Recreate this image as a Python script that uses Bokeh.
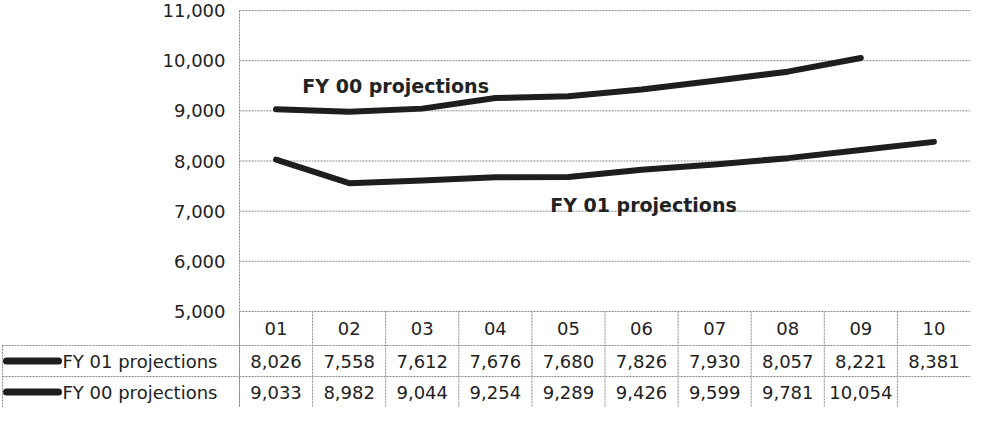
from bokeh.plotting import figure
from bokeh.models import Range1d
from bokeh.core.properties import value
from bokeh.embed import file_html
from bokeh.resources import INLINE

# ---- data ----
categories = ["01", "02", "03", "04", "05", "06", "07", "08", "09", "10"]
series_names = ["FY 01 projections", "FY 00 projections"]
fy01 = [8026, 7558, 7612, 7676, 7680, 7826, 7930, 8057, 8221, 8381]
fy00 = [9033, 8982, 9044, 9254, 9289, 9426, 9599, 9781, 10054]
y_ticks = [5000, 6000, 7000, 8000, 9000, 10000, 11000]

FONT = value("DejaVu Sans")
TXT = "#222222"
GRID = "#8c8c8c"
LINE = "#1e1e1e"

# ---- layout geometry (pixels) ----
W, H = 970, 407
LEFT = 239            # chart area left edge
TOP_PAD = 10          # space above the top gridline
CHART_H = 301         # height of the value area
ROW_H = [34, 31, 31]  # header row, two data rows

n = len(categories)
colw = (W - LEFT) / n
upp = (y_ticks[-1] - y_ticks[0]) / CHART_H   # data units per pixel
ymax = y_ticks[-1] + TOP_PAD * upp
ymin = y_ticks[0] - sum(ROW_H) * upp
xs = -0.5 - LEFT / colw
xe = n - 0.5

p = figure(width=W, height=H, output_backend="svg", toolbar_location=None,
           x_range=Range1d(xs, xe), y_range=Range1d(ymin, ymax),
           x_axis_location=None, y_axis_location=None,
           min_border_left=0, min_border_right=0,
           min_border_top=0, min_border_bottom=0)
p.outline_line_color = None
p.xgrid.grid_line_color = None
p.ygrid.grid_line_color = None
p.background_fill_color = "white"
p.border_fill_color = "white"

dash = dict(line_color=GRID, line_dash="2 1", line_width=1)

# horizontal gridlines (value axis)
p.segment(x0=[-0.5] * len(y_ticks), y0=y_ticks, x1=[xe] * len(y_ticks), y1=y_ticks, **dash)
# value-axis line, continuing through the table
p.segment(x0=[-0.5], y0=[ymax - TOP_PAD * upp], x1=[-0.5], y1=[ymin], **dash)
# value-axis tick labels
p.text(x=[-0.5 - 14 / colw] * len(y_ticks), y=y_ticks,
       text=[f"{v:,}" for v in y_ticks], text_align="right", text_baseline="middle",
       text_font=FONT, text_font_size="18px", text_color=TXT)

# series lines
p.line(list(range(len(fy01))), fy01, line_width=6, line_color=LINE,
       line_cap="round", line_join="round")
p.line(list(range(len(fy00))), fy00, line_width=6, line_color=LINE,
       line_cap="round", line_join="round")

# in-chart series labels
p.text(x=[0.36, 3.75], y=[9500, 7130], text=[series_names[1], series_names[0]],
       text_align="left", text_baseline="middle", text_font=FONT,
       text_font_size="19px", text_font_style="bold", text_color=TXT)

# ---- data table ----
y_edges = [y_ticks[0]]
for h in ROW_H:
    y_edges.append(y_edges[-1] - h * upp)
label_left = xs + 2 / colw

bounds = [i - 0.5 for i in range(n + 1)]
p.segment(x0=bounds, y0=[y_edges[0]] * len(bounds), x1=bounds, y1=[ymin] * len(bounds), **dash)
p.segment(x0=[label_left], y0=[y_edges[1]], x1=[label_left], y1=[ymin], **dash)
p.segment(x0=[label_left] * 3, y0=y_edges[1:], x1=[xe] * 3, y1=y_edges[1:], **dash)

# header row: categories
yc0 = (y_edges[0] + y_edges[1]) / 2
p.text(x=list(range(n)), y=[yc0] * n, text=categories, text_align="center",
       text_baseline="middle", text_font=FONT, text_font_size="18px", text_color=TXT)

rows = [fy01, fy00]
for r, vals in enumerate(rows):
    yc = (y_edges[r + 1] + y_edges[r + 2]) / 2
    p.text(x=list(range(len(vals))), y=[yc] * len(vals),
           text=[f"{v:,}" for v in vals], text_align="center",
           text_baseline="middle", text_font=FONT, text_font_size="18px",
           text_color=TXT)
    p.segment(x0=[xs + 6 / colw], y0=[yc], x1=[xs + 58 / colw], y1=[yc],
              line_color=LINE, line_width=7, line_cap="round")
    p.text(x=[xs + 62 / colw], y=[yc], text=[series_names[r]], text_align="left",
           text_baseline="middle", text_font=FONT, text_font_size="18px",
           text_color=TXT)

open("out.html", "w").write(file_html(p, INLINE))
